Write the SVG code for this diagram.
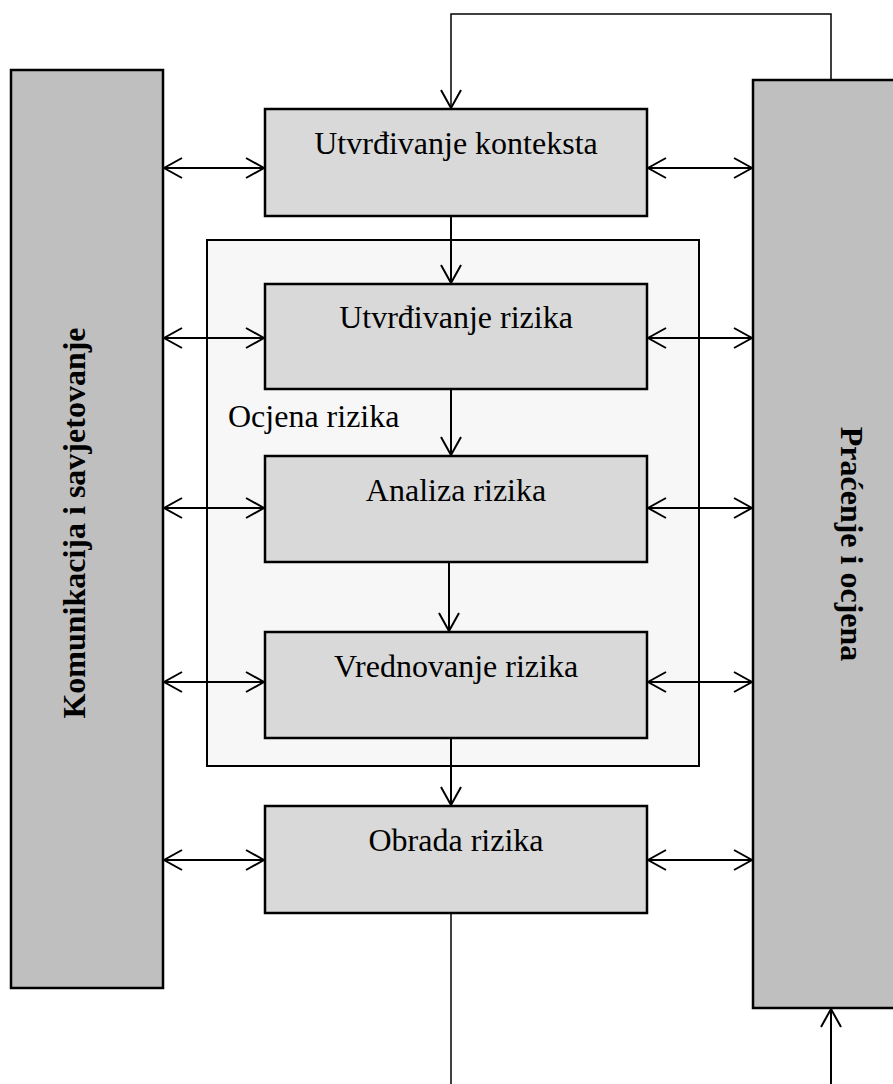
<svg xmlns="http://www.w3.org/2000/svg" width="893" height="1084" viewBox="0 0 893 1084">
<style>
.bar{fill:#bfbfbf;stroke:#000;stroke-width:2.5}
.box{fill:#d9d9d9;stroke:#000;stroke-width:2.5}
.cont{fill:#f7f7f7;stroke:#000;stroke-width:2}
.t{font-family:"Liberation Serif","Times New Roman",serif;font-size:32px;fill:#000;text-anchor:middle}
.tb{font-family:"Liberation Serif","Times New Roman",serif;font-size:32px;font-weight:bold;fill:#000;text-anchor:middle}
.c{stroke:#000;stroke-width:2;fill:none}
.thin{stroke:#000;stroke-width:1.5;fill:none}
</style>
<defs>
<marker id="ah" viewBox="0 0 22 24" refX="20" refY="12" markerWidth="22" markerHeight="24" markerUnits="userSpaceOnUse" orient="auto-start-reverse">
<path d="M2,2 L20,12 L2,22" fill="none" stroke="#000" stroke-width="2"/>
</marker>
</defs>
<g id="left-bar">
<rect class="bar" x="11" y="70" width="152" height="918"/>
<text class="tb" transform="translate(85,523) rotate(-90)">Komunikacija i savjetovanje</text>
</g>
<g id="right-bar">
<rect class="bar" x="753" y="80" width="145" height="928"/>
<text class="tb" transform="translate(841,544) rotate(90)">Praćenje i ocjena</text>
</g>
<g id="ocjena-rizika">
<rect class="cont" x="207" y="240" width="492" height="526"/>
<text class="t" x="228" y="427" style="text-anchor:start">Ocjena rizika</text>
</g>
<g id="n1">
<rect class="box" x="265" y="109" width="382" height="107"/>
<text class="t" x="456" y="154">Utvrđivanje konteksta</text>
</g>
<g id="n2">
<rect class="box" x="265" y="284" width="382" height="105"/>
<text class="t" x="456" y="328">Utvrđivanje rizika</text>
</g>
<g id="n3">
<rect class="box" x="265" y="456" width="382" height="106"/>
<text class="t" x="456" y="501">Analiza rizika</text>
</g>
<g id="n4">
<rect class="box" x="265" y="632" width="382" height="106"/>
<text class="t" x="456" y="677">Vrednovanje rizika</text>
</g>
<g id="n5">
<rect class="box" x="265" y="806" width="382" height="107"/>
<text class="t" x="456" y="851">Obrada rizika</text>
</g>
<g id="connectors">
<polyline class="thin" points="831,80 831,14 451,14 451,108" marker-end="url(#ah)"/>
<line class="c" x1="451" y1="216" x2="451" y2="283" marker-end="url(#ah)"/>
<line class="c" x1="451" y1="389" x2="451" y2="455" marker-end="url(#ah)"/>
<line class="c" x1="449" y1="562" x2="449" y2="631" marker-end="url(#ah)"/>
<line class="c" x1="451" y1="738" x2="451" y2="805" marker-end="url(#ah)"/>
<line class="thin" x1="451" y1="913" x2="451" y2="1084"/>
<line class="c" x1="831" y1="1084" x2="831" y2="1009" marker-end="url(#ah)"/>
<line class="c" x1="164" y1="168" x2="264" y2="168" marker-start="url(#ah)" marker-end="url(#ah)"/>
<line class="c" x1="648" y1="168" x2="752" y2="168" marker-start="url(#ah)" marker-end="url(#ah)"/>
<line class="c" x1="164" y1="338" x2="264" y2="338" marker-start="url(#ah)" marker-end="url(#ah)"/>
<line class="c" x1="648" y1="338" x2="752" y2="338" marker-start="url(#ah)" marker-end="url(#ah)"/>
<line class="c" x1="164" y1="508" x2="264" y2="508" marker-start="url(#ah)" marker-end="url(#ah)"/>
<line class="c" x1="648" y1="508" x2="752" y2="508" marker-start="url(#ah)" marker-end="url(#ah)"/>
<line class="c" x1="164" y1="682" x2="264" y2="682" marker-start="url(#ah)" marker-end="url(#ah)"/>
<line class="c" x1="648" y1="682" x2="752" y2="682" marker-start="url(#ah)" marker-end="url(#ah)"/>
<line class="c" x1="164" y1="860" x2="264" y2="860" marker-start="url(#ah)" marker-end="url(#ah)"/>
<line class="c" x1="648" y1="860" x2="752" y2="860" marker-start="url(#ah)" marker-end="url(#ah)"/>
</g>
</svg>
